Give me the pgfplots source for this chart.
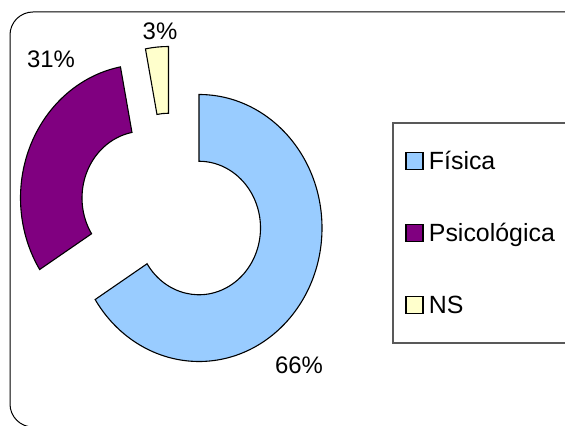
\documentclass[border=0pt]{standalone}
\usepackage{pgfplots}
\pgfplotsset{compat=1.18}
\usepackage{pgfplotstable}
\usepackage{fontspec}
\setmainfont{Liberation Sans}
\definecolor{cFis}{HTML}{99CCFF}
\definecolor{cPsi}{HTML}{800080}
\definecolor{cNS}{HTML}{FFFFCC}

% slice values (percent) and explosion offsets (in px of the 565x426 frame)
\pgfplotstableread{
label value dx dy
Fisica 66 0 0
Psicologica 31 -55.5 30
NS 3 -30.5 48
}\slices

\newcommand\ringslice[5]{%
  \draw[fill=#5, draw=black, line width=1.1bp, line join=miter]
   (axis cs:{199+#3+123*cos(#1)},{198+#4+133.5*sin(#1)})
   arc[start angle=#1, end angle=#2, x radius=123bp, y radius=133.5bp]
   -- (axis cs:{199+#3+61.5*cos(#2)},{198+#4+66.75*sin(#2)})
   arc[start angle=#2, end angle=#1, x radius=61.5bp, y radius=66.75bp]
   -- cycle;}

\begin{document}
\begin{tikzpicture}
\pgfplotstablegetelem{0}{value}\of\slices \let\vA\pgfplotsretval
\pgfplotstablegetelem{1}{value}\of\slices \let\vB\pgfplotsretval
\pgfplotstablegetelem{2}{value}\of\slices \let\vC\pgfplotsretval
\pgfplotstablegetelem{0}{dx}\of\slices \let\xA\pgfplotsretval
\pgfplotstablegetelem{1}{dx}\of\slices \let\xB\pgfplotsretval
\pgfplotstablegetelem{2}{dx}\of\slices \let\xC\pgfplotsretval
\pgfplotstablegetelem{0}{dy}\of\slices \let\yA\pgfplotsretval
\pgfplotstablegetelem{1}{dy}\of\slices \let\yB\pgfplotsretval
\pgfplotstablegetelem{2}{dy}\of\slices \let\yC\pgfplotsretval
\pgfmathsetmacro\aA{90}
\pgfmathsetmacro\aB{90-3.6*\vA}
\pgfmathsetmacro\aC{\aB-3.6*\vB}
\pgfmathsetmacro\aD{\aC-3.6*\vC}
\begin{axis}[
  name=ax,
  width=565bp, height=426bp, scale only axis,
  xmin=0, xmax=565, ymin=0, ymax=426,
  hide axis, clip=false,
  legend image code/.code={\draw[#1] (0bp,-5.5bp) rectangle (17bp,11.5bp);},
  legend cell align=left,
  legend style={draw=none, fill=none, inner sep=0pt,
    at={(axis cs:405,274.65)}, anchor=north west,
    font=\fontsize{25}{29}\selectfont, row sep=48.65bp,
    nodes={inner sep=0pt, text height=17bp, text depth=5bp},
    /tikz/every odd column/.append style={column sep=5bp}},
]
% chart frame and legend frame
\draw[black, line width=1bp, rounded corners=23bp] (axis cs:10,-1) rectangle (axis cs:600,414);
\draw[black!65, line width=1.2bp] (axis cs:600,303) -- (axis cs:393,303) -- (axis cs:393,83) -- (axis cs:600,83);

\ringslice{\aA}{\aB}{\xA}{\yA}{cFis}
\ringslice{\aB}{\aC}{\xB}{\yB}{cPsi}
\ringslice{\aC}{\aD}{\xC}{\yC}{cNS}

\node[font=\fontsize{24}{28}\selectfont] at (axis cs:299,61) {\vA\%};
\node[font=\fontsize{24}{28}\selectfont] at (axis cs:51,367) {\vB\%};
\node[font=\fontsize{24}{28}\selectfont] at (axis cs:160,395) {\vC\%};

\addlegendimage{fill=cFis, draw=black, line width=1.7bp}
\addlegendentry{Física}
\addlegendimage{fill=cPsi, draw=black, line width=1.7bp}
\addlegendentry{Psicológica}
\addlegendimage{fill=cNS, draw=black, line width=1.7bp}
\addlegendentry{NS}
\end{axis}
\pgfresetboundingbox
\useasboundingbox (ax.south west) rectangle (ax.north east);
\end{tikzpicture}
\end{document}
